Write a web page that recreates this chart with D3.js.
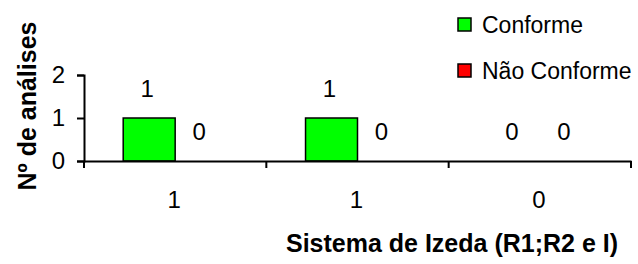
<!DOCTYPE html>
<html>
<head>
<meta charset="utf-8">
<script src="https://cdn.jsdelivr.net/npm/d3@7"></script>
<style>
  body { margin: 0; background: #fff; }
  text { font-family: Arial, "Liberation Sans", sans-serif; }
</style>
</head>
<body>
<div id="chart"></div>
<script>
// Data
var categories = ["1", "1", "0"];
var series = ["Conforme", "Não Conforme"];
var conforme = [1, 1, 0];
var naoConforme = [0, 0, 0];
var yTicks = [0, 1, 2];
var colors = ["#00ff00", "#ff0000"];

var svgWidth = 638;
var svgHeight = 264;

var margin = { top: 75, right: 7, bottom: 103, left: 84 };
var width = svgWidth - margin.left - margin.right;
var height = svgHeight - margin.top - margin.bottom;

var svg = d3.select("#chart")
  .append("svg")
  .attr("width", svgWidth)
  .attr("height", svgHeight);

var chartGroup = svg.append("g")
  .attr("transform", `translate(${margin.left}, ${margin.top})`);

// Scales
var idx = d3.range(categories.length);
var xScale = d3.scaleBand()
  .domain(idx)
  .range([0, width])
  .paddingInner(0.43)
  .paddingOuter(0.215);

var xInner = d3.scaleBand()
  .domain([0, 1])
  .range([0, xScale.bandwidth()]);

var yScale = d3.scaleLinear()
  .domain([0, 2])
  .range([height, 0]);

// Bars
var rows = idx.map(function(i) {
  return [conforme[i], naoConforme[i]];
});

var groups = chartGroup.selectAll(".cat")
  .data(rows)
  .enter()
  .append("g")
  .attr("class", "cat")
  .attr("transform", (d, i) => `translate(${xScale(i)}, 0)`);

groups.selectAll("rect")
  .data(d => d.map((v, s) => ({ v: v, s: s })).filter(e => e.v > 0))
  .enter()
  .append("rect")
  .attr("x", d => xInner(d.s))
  .attr("y", d => yScale(d.v))
  .attr("width", xInner.bandwidth())
  .attr("height", d => yScale(0) - yScale(d.v))
  .attr("fill", d => colors[d.s])
  .attr("stroke", "#000")
  .attr("stroke-width", 1.5);

// Value labels
groups.selectAll(".val")
  .data(d => d.map((v, s) => ({ v: v, s: s })))
  .enter()
  .append("text")
  .attr("class", "val")
  .attr("x", d => xInner(d.s) + xInner.bandwidth() / 2 - 2)
  .attr("y", d => yScale(d.v) - 21)
  .attr("text-anchor", "middle")
  .style("font-size", "24px")
  .text(d => d.v);

// Axes
var xAxis = d3.axisBottom(xScale)
  .tickValues([])
  .tickSizeOuter(0);

var xAxisG = chartGroup.append("g")
  .attr("transform", `translate(0, ${height})`)
  .call(xAxis);

// category boundary ticks
xAxisG.selectAll(".bound")
  .data(d3.range(categories.length + 1))
  .enter()
  .append("line")
  .attr("class", "bound")
  .attr("x1", i => i * xScale.step())
  .attr("x2", i => i * xScale.step())
  .attr("y1", 0)
  .attr("y2", 7)
  .attr("stroke", "#000")
  .attr("stroke-width", 2);

xAxisG.selectAll(".catlab")
  .data(categories)
  .enter()
  .append("text")
  .attr("class", "catlab")
  .attr("x", (d, i) => xScale(i) + xScale.bandwidth() / 2 - 1)
  .attr("y", 47)
  .attr("text-anchor", "middle")
  .attr("fill", "#000")
  .style("font-size", "24px")
  .text(d => d);

var yAxis = d3.axisLeft(yScale)
  .tickValues(yTicks)
  .tickFormat(d3.format("d"))
  .tickSize(7)
  .tickPadding(12)
  .tickSizeOuter(7);

var yAxisG = chartGroup.append("g").call(yAxis);
yAxisG.selectAll("text").style("font-size", "24px");

[xAxisG, yAxisG].forEach(function(g) {
  g.select(".domain").attr("stroke-width", 2);
  g.selectAll(".tick line").attr("stroke-width", 2);
});

// Axis titles
svg.append("text")
  .attr("x", 452)
  .attr("y", 252)
  .attr("text-anchor", "middle")
  .style("font-size", "25px")
  .style("font-weight", "bold")
  .text("Sistema de Izeda (R1;R2 e I)");

svg.append("text")
  .attr("transform", "translate(36, 106) rotate(-90)")
  .attr("text-anchor", "middle")
  .style("font-size", "25px")
  .style("font-weight", "bold")
  .text("Nº de análises");

// Legend
var legend = svg.selectAll(".legend")
  .data(series)
  .enter()
  .append("g")
  .attr("class", "legend")
  .attr("transform", (d, i) => `translate(458, ${18 + i * 46})`);

legend.append("rect")
  .attr("width", 13)
  .attr("height", 13)
  .attr("fill", (d, i) => colors[i])
  .attr("stroke", "#000")
  .attr("stroke-width", 1.5);

legend.append("text")
  .attr("x", 24)
  .attr("y", 15)
  .style("font-size", "23px")
  .text(d => d);
</script>
</body>
</html>
